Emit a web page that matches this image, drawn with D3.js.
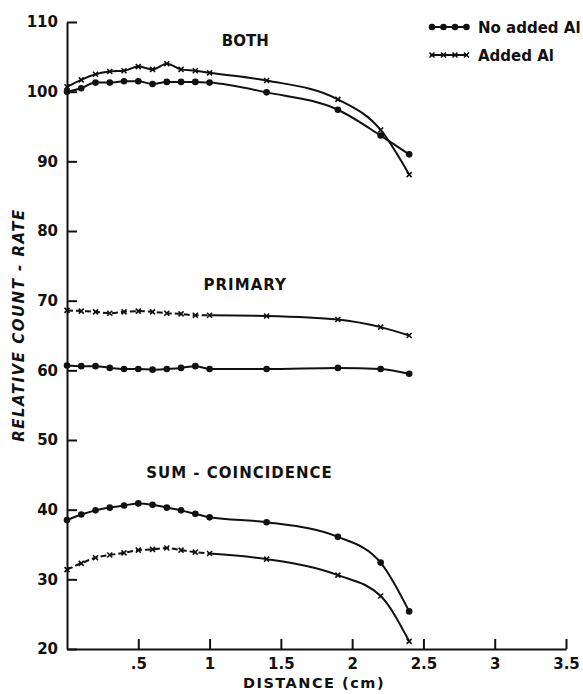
<!DOCTYPE html>
<html>
<head>
<meta charset="utf-8">
<script src="https://cdn.jsdelivr.net/npm/d3@7"></script>
<style>
  body { margin: 0; background: #fff; }
  svg text { font-family: "DejaVu Sans", sans-serif; font-weight: bold; fill: #111; }
</style>
</head>
<body>
<div id="chart"></div>
<script>
var width = 583;
var height = 694;

// distance (cm) of each reading
var distance = [0, 0.1, 0.2, 0.3, 0.4, 0.5, 0.6, 0.7, 0.8, 0.9, 1.0, 1.4, 1.9, 2.2, 2.4];

var bothNoAl    = [100.0, 100.5, 101.3, 101.3, 101.5, 101.5, 101.1, 101.4, 101.4, 101.4, 101.3, 99.9, 97.4, 93.7, 91.0];
var bothAl      = [100.7, 101.7, 102.5, 102.9, 103.0, 103.6, 103.2, 104.0, 103.2, 103.0, 102.7, 101.6, 98.9, 94.5, 88.1];
var primaryNoAl = [60.7, 60.6, 60.6, 60.35, 60.2, 60.2, 60.1, 60.2, 60.35, 60.6, 60.2, 60.2, 60.35, 60.2, 59.5];
var primaryAl   = [68.6, 68.5, 68.4, 68.2, 68.4, 68.5, 68.4, 68.2, 68.1, 67.9, 67.9, 67.8, 67.3, 66.2, 65.0];
var sumNoAl     = [38.5, 39.3, 39.9, 40.3, 40.6, 40.9, 40.7, 40.3, 39.9, 39.4, 38.9, 38.2, 36.1, 32.4, 25.4];
var sumAl       = [31.4, 32.3, 33.1, 33.5, 33.8, 34.2, 34.3, 34.5, 34.2, 33.9, 33.7, 32.9, 30.6, 27.6, 21.1];

var xTicks = [0.5, 1, 1.5, 2, 2.5, 3, 3.5];
var xTickLabels = [".5", "1", "1.5", "2", "2.5", "3", "3.5"];
var yTicks = [20, 30, 40, 50, 60, 70, 80, 90, 100, 110];

var svg = d3.select("#chart")
            .append("svg")
            .attr("width", width)
            .attr("height", height);

var x = d3.scaleLinear().domain([0, 3.5]).range([67, 566]);
var y = d3.scaleLinear().domain([20, 110]).range([649, 22]);

// axes, ticks pointing inward
var yAxis = svg.append("g")
    .attr("transform", "translate(" + x(0) + ",0)")
    .call(d3.axisLeft(y).tickValues(yTicks).tickSizeInner(-10).tickSizeOuter(0).tickPadding(9));

var xAxis = svg.append("g")
    .attr("transform", "translate(0," + y(20) + ")")
    .call(d3.axisBottom(x).tickValues(xTicks).tickSizeInner(-10).tickSizeOuter(0).tickPadding(9)
        .tickFormat(function(d, i) { return xTickLabels[i]; }));

svg.selectAll(".domain, .tick line")
    .attr("stroke", "#111")
    .attr("stroke-width", 2);
svg.selectAll(".tick text")
    .style("font-size", "15px");

svg.append("text")
    .attr("x", 314)
    .attr("y", 688)
    .attr("text-anchor", "middle")
    .style("font-size", "14.5px")
    .style("letter-spacing", "1.5px")
    .text("DISTANCE (cm)");

svg.append("text")
    .attr("transform", "translate(24,325) rotate(-90)")
    .attr("text-anchor", "middle")
    .style("font-size", "15px")
    .style("font-style", "italic")
    .style("letter-spacing", "1.5px")
    .text("RELATIVE COUNT - RATE");

// curve labels
var labels = [["BOTH", 1.25, 106.5], ["PRIMARY", 1.25, 71.6], ["SUM - COINCIDENCE", 1.21, 44.5]];
labels.forEach(function(l) {
    svg.append("text")
        .attr("x", x(l[1]))
        .attr("y", y(l[2]))
        .attr("text-anchor", "middle")
        .style("font-size", "15px")
        .style("letter-spacing", l[0] == "BOTH" ? "0px" : "1px")
        .text(l[0]);
});

var line = d3.line()
    .x(function(d) { return x(d[0]); })
    .y(function(d) { return y(d[1]); })
    .curve(d3.curveMonotoneX);

function drawSeries(vals, marker, dashedStart) {
    var pts = distance.map(function(d, i) { return [d, vals[i]]; });
    if (dashedStart) {
        var first = pts.filter(function(p) { return p[0] <= 1.0; });
        var rest = pts.filter(function(p) { return p[0] >= 1.0; });
        svg.append("path").attr("d", line(first))
            .attr("fill", "none").attr("stroke", "#111").attr("stroke-width", 2)
            .attr("stroke-dasharray", "6,3");
        svg.append("path").attr("d", line(rest))
            .attr("fill", "none").attr("stroke", "#111").attr("stroke-width", 2);
    } else {
        svg.append("path").attr("d", line(pts))
            .attr("fill", "none").attr("stroke", "#111").attr("stroke-width", 2);
    }
    drawMarkers(pts.map(function(p) { return [x(p[0]), y(p[1])]; }), marker);
}

function drawMarkers(pxs, marker) {
    if (marker == "circle") {
        svg.append("g").selectAll("circle")
            .data(pxs)
            .enter()
            .append("circle")
            .attr("cx", function(d) { return d[0]; })
            .attr("cy", function(d) { return d[1]; })
            .attr("r", 3.3)
            .attr("fill", "#111");
    } else {
        svg.append("g").selectAll("path")
            .data(pxs)
            .enter()
            .append("path")
            .attr("d", function(d) {
                var s = 2.5;
                return "M" + (d[0] - s) + "," + (d[1] - s) + "L" + (d[0] + s) + "," + (d[1] + s) +
                       "M" + (d[0] - s) + "," + (d[1] + s) + "L" + (d[0] + s) + "," + (d[1] - s);
            })
            .attr("stroke", "#111")
            .attr("stroke-width", 1.6);
    }
}

drawSeries(bothNoAl, "circle", false);
drawSeries(bothAl, "cross", false);
drawSeries(primaryNoAl, "circle", false);
drawSeries(primaryAl, "cross", true);
drawSeries(sumNoAl, "circle", false);
drawSeries(sumAl, "cross", true);

// legend
var legend = [["No added Al", "circle", 27], ["Added Al", "cross", 55]];
legend.forEach(function(l) {
    svg.append("line")
        .attr("x1", 430).attr("x2", 468)
        .attr("y1", l[2]).attr("y2", l[2])
        .attr("stroke", "#111").attr("stroke-width", 2);
    drawMarkers(d3.range(4).map(function(i) { return [432 + i * 11.5, l[2]]; }), l[1]);
    svg.append("text")
        .attr("x", 478)
        .attr("y", l[2] + 5.5)
        .style("font-size", "15px")
        .text(l[0]);
});
</script>
</body>
</html>
